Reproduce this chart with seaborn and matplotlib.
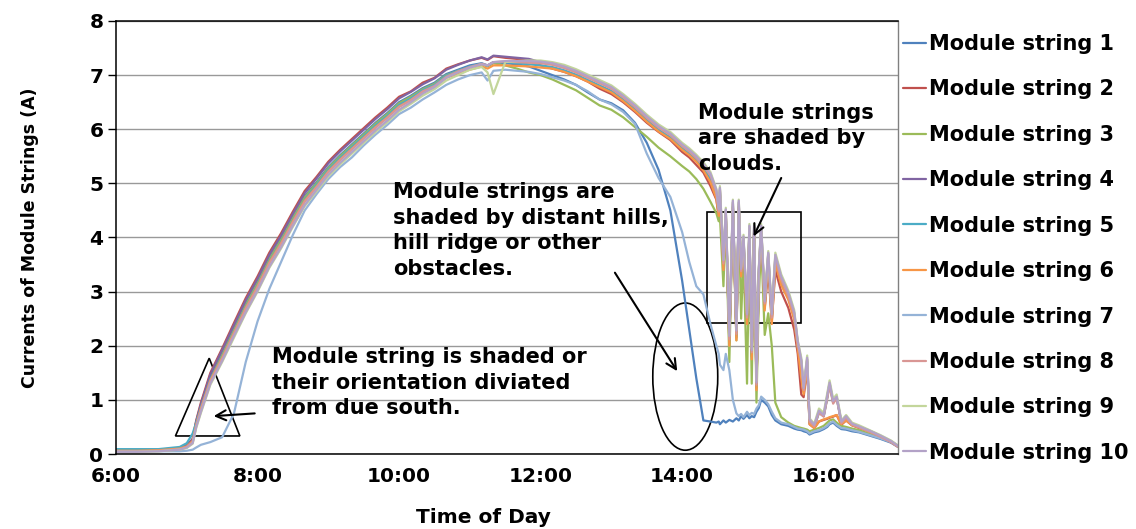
import seaborn as sns
import matplotlib.pyplot as plt
import matplotlib.patches as mpatches
import pandas as pd

sns.set_style("white")
plt.rcParams['font.family'] = ['DejaVu Sans']
plt.rcParams['font.weight'] = 'bold'
plt.rcParams['axes.labelweight'] = 'bold'
plt.rcParams['text.color'] = 'black'
plt.rcParams['axes.labelcolor'] = 'black'
plt.rcParams['xtick.color'] = 'black'
plt.rcParams['ytick.color'] = 'black'

# sample times (clock time)
TIMES = ["6:00", "6:18", "6:36", "6:54", "7:00", "7:05", "7:08", "7:12", "7:20", "7:30",
         "7:40", "7:50", "8:00", "8:10", "8:20", "8:30", "8:40", "8:50", "9:00", "9:10",
         "9:20", "9:30", "9:40", "9:50", "10:00", "10:10", "10:20", "10:30", "10:40", "10:50",
         "11:00", "11:10", "11:15", "11:20", "11:30", "11:40", "11:50", "12:00", "12:10", "12:20",
         "12:30", "12:40", "12:50", "13:00", "13:10", "13:20", "13:30", "13:40", "13:50", "14:00",
         "14:06", "14:12", "14:18", "14:24", "14:29", "14:31", "14:32", "14:35", "14:37", "14:40",
         "14:43", "14:46", "14:48", "14:50", "14:52", "14:55", "14:57", "14:59", "15:01", "15:03",
         "15:05", "15:07", "15:10", "15:13", "15:16", "15:19", "15:24", "15:30", "15:35", "15:38",
         "15:41", "15:43", "15:46", "15:48", "15:52", "15:56", "16:00", "16:03", "16:05", "16:08",
         "16:11", "16:15", "16:19", "16:24", "16:30", "16:39", "16:48", "16:57", "17:03"]

S1 = [0.06, 0.06, 0.07, 0.10, 0.15, 0.25, 0.58, 0.88, 1.42, 1.86, 2.32, 2.78,
      3.18, 3.62, 3.98, 4.38, 4.76, 5.02, 5.30, 5.52, 5.72, 5.92, 6.12, 6.30,
      6.50, 6.62, 6.76, 6.86, 7.02, 7.10, 7.18, 7.22, 7.18, 7.24, 7.22, 7.20, 7.16,
      7.08, 7.00, 6.92, 6.82, 6.68, 6.55, 6.48, 6.35, 6.12, 5.75, 5.25, 4.50, 3.20, 2.30, 1.40, 0.62, 0.60,
      0.58, 0.60, 0.55, 0.62, 0.58, 0.63, 0.60, 0.66, 0.62, 0.70, 0.65, 0.72, 0.66, 0.70, 0.68,
      0.78, 0.85, 1.00, 0.95, 0.88, 0.72, 0.62, 0.55, 0.52, 0.47, 0.45, 0.44, 0.42, 0.40, 0.36,
      0.40, 0.42, 0.46, 0.50, 0.55, 0.58, 0.52, 0.46, 0.45, 0.42, 0.40, 0.34, 0.28, 0.21, 0.13]

S2 = [0.07, 0.07, 0.08, 0.11, 0.16, 0.28, 0.62, 0.95, 1.50, 1.95, 2.42, 2.88,
      3.28, 3.72, 4.08, 4.48, 4.86, 5.12, 5.40, 5.62, 5.82, 6.02, 6.22, 6.40,
      6.60, 6.70, 6.86, 6.95, 7.12, 7.20, 7.27, 7.32, 7.28, 7.35, 7.32, 7.30, 7.26,
      7.18, 7.12, 7.06, 6.98, 6.88, 6.75, 6.65, 6.50, 6.32, 6.12, 5.95, 5.80, 5.58, 5.48, 5.34, 5.20, 4.95,
      4.70, 4.38, 4.78, 3.45, 4.40, 2.05, 4.55, 2.15, 4.55, 3.30, 3.90, 2.45, 4.10, 1.80, 4.10,
      1.22, 3.30, 4.00, 2.70, 3.40, 2.45, 3.40, 3.00, 2.70, 2.30, 1.85, 1.10, 1.05, 1.60, 0.55,
      0.48, 0.60, 0.63, 0.65, 0.67, 0.69, 0.72, 0.54, 0.62, 0.53, 0.48, 0.41, 0.32, 0.22, 0.14]

S3 = [0.06, 0.06, 0.07, 0.10, 0.14, 0.24, 0.56, 0.86, 1.40, 1.84, 2.30, 2.76,
      3.16, 3.60, 3.96, 4.36, 4.74, 5.00, 5.28, 5.50, 5.70, 5.90, 6.10, 6.28,
      6.48, 6.60, 6.74, 6.84, 7.00, 7.08, 7.15, 7.20, 7.16, 7.22, 7.18, 7.12, 7.05,
      7.00, 6.92, 6.82, 6.72, 6.58, 6.44, 6.36, 6.22, 6.04, 5.86, 5.66, 5.50, 5.32, 5.22, 5.08, 4.90, 4.66,
      4.45, 4.30, 4.40, 3.10, 4.35, 1.70, 4.55, 2.10, 4.55, 2.50, 3.70, 1.30, 3.90, 1.30, 4.00,
      0.95, 2.90, 3.90, 2.20, 2.60, 2.00, 0.95, 0.68, 0.58, 0.52, 0.50, 0.48, 0.47, 0.45, 0.42,
      0.45, 0.48, 0.52, 0.58, 0.62, 0.64, 0.58, 0.52, 0.50, 0.47, 0.44, 0.37, 0.30, 0.23, 0.15]

S4 = [0.06, 0.06, 0.07, 0.10, 0.15, 0.27, 0.60, 0.92, 1.47, 1.92, 2.38, 2.84,
      3.24, 3.68, 4.04, 4.44, 4.82, 5.09, 5.37, 5.59, 5.79, 5.99, 6.19, 6.37,
      6.57, 6.69, 6.83, 6.94, 7.10, 7.19, 7.27, 7.33, 7.29, 7.36, 7.34, 7.32, 7.30,
      7.24, 7.21, 7.15, 7.07, 6.97, 6.87, 6.77, 6.61, 6.43, 6.23, 6.05, 5.91, 5.71, 5.61, 5.49, 5.35, 5.16,
      4.85, 4.50, 4.90, 3.55, 4.50, 2.15, 4.65, 2.25, 4.65, 3.40, 4.00, 2.55, 4.20, 1.90, 4.20,
      1.30, 3.40, 4.20, 2.80, 3.70, 2.55, 3.65, 3.25, 2.95, 2.60, 2.05, 1.72, 1.20, 1.75, 0.62,
      0.52, 0.78, 0.70, 1.05, 1.30, 0.95, 1.05, 0.58, 0.68, 0.55, 0.50, 0.42, 0.33, 0.23, 0.14]

S5 = [0.09, 0.09, 0.09, 0.13, 0.20, 0.38, 0.58, 0.86, 1.38, 1.80, 2.26, 2.72,
      3.12, 3.56, 3.92, 4.32, 4.70, 4.97, 5.25, 5.47, 5.67, 5.87, 6.07, 6.25,
      6.45, 6.57, 6.72, 6.82, 6.99, 7.08, 7.16, 7.21, 7.17, 7.24, 7.24, 7.22, 7.20,
      7.18, 7.15, 7.09, 7.01, 6.91, 6.81, 6.71, 6.55, 6.37, 6.17, 5.99, 5.85, 5.65, 5.55, 5.43, 5.28, 5.08,
      4.78, 4.45, 4.84, 3.48, 4.44, 2.08, 4.58, 2.18, 4.58, 3.34, 3.94, 2.48, 4.14, 1.84, 4.14,
      1.25, 3.34, 4.14, 2.74, 3.64, 2.48, 3.58, 3.18, 2.88, 2.52, 1.98, 1.66, 1.15, 1.70, 0.58,
      0.50, 0.76, 0.70, 1.04, 1.30, 0.96, 1.04, 0.58, 0.68, 0.56, 0.51, 0.43, 0.34, 0.24, 0.15]

S6 = [0.06, 0.06, 0.07, 0.10, 0.14, 0.24, 0.54, 0.84, 1.36, 1.78, 2.24, 2.70,
      3.10, 3.54, 3.90, 4.30, 4.68, 4.94, 5.22, 5.44, 5.64, 5.84, 6.04, 6.22,
      6.42, 6.54, 6.68, 6.78, 6.95, 7.03, 7.10, 7.16, 7.12, 7.18, 7.18, 7.17, 7.16,
      7.14, 7.12, 7.06, 6.98, 6.88, 6.78, 6.68, 6.52, 6.34, 6.14, 5.96, 5.82, 5.62, 5.52, 5.40, 5.24, 5.02,
      4.72, 4.40, 4.80, 3.40, 4.42, 2.00, 4.55, 2.10, 4.55, 3.28, 3.90, 2.40, 4.10, 1.75, 4.10,
      1.18, 3.30, 4.10, 2.65, 3.58, 2.40, 3.52, 3.12, 2.85, 2.48, 1.95, 1.40, 1.10, 1.62, 0.55,
      0.48, 0.60, 0.64, 0.66, 0.68, 0.70, 0.72, 0.55, 0.62, 0.53, 0.49, 0.41, 0.33, 0.23, 0.14]

S7 = [0.05, 0.05, 0.05, 0.05, 0.06, 0.08, 0.12, 0.17, 0.22, 0.31, 0.75, 1.70,
      2.45, 3.05, 3.55, 4.05, 4.50, 4.80, 5.08, 5.30, 5.48, 5.70, 5.90, 6.08,
      6.28, 6.40, 6.55, 6.68, 6.82, 6.92, 7.00, 7.05, 6.90, 7.08, 7.10, 7.08, 7.06,
      7.02, 6.96, 6.90, 6.82, 6.70, 6.55, 6.46, 6.32, 6.10, 5.55, 5.10, 4.75, 4.10, 3.55, 3.10, 2.95, 2.40,
      2.00, 1.85, 1.65, 1.55, 1.85, 1.55, 1.00, 0.75, 0.70, 0.74, 0.68, 0.78, 0.72, 0.76, 0.74,
      0.84, 0.90, 1.06, 1.00, 0.92, 0.78, 0.66, 0.58, 0.55, 0.50, 0.47, 0.46, 0.45, 0.42, 0.38,
      0.42, 0.44, 0.48, 0.52, 0.57, 0.60, 0.54, 0.48, 0.47, 0.44, 0.41, 0.35, 0.29, 0.22, 0.14]

S8 = [0.05, 0.05, 0.06, 0.09, 0.13, 0.22, 0.52, 0.82, 1.34, 1.76, 2.22, 2.68,
      3.08, 3.52, 3.88, 4.28, 4.66, 4.93, 5.21, 5.43, 5.63, 5.83, 6.03, 6.21,
      6.41, 6.54, 6.70, 6.80, 6.97, 7.07, 7.15, 7.21, 7.18, 7.24, 7.25, 7.24, 7.23,
      7.22, 7.19, 7.13, 7.05, 6.95, 6.85, 6.75, 6.59, 6.41, 6.21, 6.03, 5.89, 5.69, 5.59, 5.47, 5.33, 5.14,
      4.83, 4.48, 4.88, 3.52, 4.48, 2.12, 4.62, 2.22, 4.62, 3.38, 3.98, 2.52, 4.18, 1.88, 4.18,
      1.28, 3.38, 4.18, 2.78, 3.68, 2.52, 3.62, 3.22, 2.92, 2.56, 2.02, 1.70, 1.18, 1.72, 0.60,
      0.51, 0.76, 0.69, 1.02, 1.26, 0.93, 1.03, 0.57, 0.67, 0.54, 0.49, 0.41, 0.32, 0.22, 0.13]

S9 = [0.04, 0.04, 0.05, 0.08, 0.11, 0.19, 0.48, 0.76, 1.28, 1.70, 2.15, 2.60,
      3.00, 3.44, 3.80, 4.20, 4.58, 4.85, 5.13, 5.35, 5.55, 5.75, 5.95, 6.13,
      6.33, 6.47, 6.62, 6.74, 6.90, 7.00, 7.10, 7.15, 7.05, 6.65, 7.24, 7.26, 7.27,
      7.27, 7.24, 7.19, 7.11, 7.01, 6.91, 6.81, 6.65, 6.47, 6.27, 6.09, 5.95, 5.75, 5.65, 5.53, 5.39, 5.21,
      4.90, 4.55, 4.95, 3.60, 4.55, 2.20, 4.70, 2.30, 4.70, 3.45, 4.05, 2.60, 4.25, 1.95, 4.25,
      1.35, 3.45, 4.25, 2.85, 3.75, 2.60, 3.72, 3.32, 3.02, 2.66, 2.10, 1.78, 1.25, 1.82, 0.66,
      0.56, 0.84, 0.76, 1.12, 1.36, 1.02, 1.10, 0.62, 0.72, 0.58, 0.53, 0.44, 0.35, 0.25, 0.16]

S10 = [0.04, 0.04, 0.05, 0.08, 0.12, 0.20, 0.50, 0.78, 1.30, 1.72, 2.18, 2.62,
       3.02, 3.46, 3.82, 4.22, 4.60, 4.88, 5.16, 5.38, 5.58, 5.78, 5.98, 6.16,
       6.36, 6.50, 6.66, 6.78, 6.95, 7.05, 7.14, 7.20, 7.18, 7.24, 7.26, 7.26, 7.26,
       7.25, 7.22, 7.16, 7.08, 6.98, 6.88, 6.78, 6.62, 6.44, 6.24, 6.06, 5.92, 5.72, 5.62, 5.50, 5.36, 5.18,
       4.88, 4.52, 4.92, 3.58, 4.52, 2.18, 4.68, 2.28, 4.68, 3.42, 4.02, 2.58, 4.22, 1.92, 4.22,
       1.32, 3.42, 4.22, 2.82, 3.72, 2.58, 3.68, 3.28, 2.98, 2.62, 2.08, 1.74, 1.22, 1.78, 0.64,
       0.54, 0.80, 0.72, 1.08, 1.32, 0.98, 1.06, 0.60, 0.70, 0.56, 0.51, 0.43, 0.34, 0.24, 0.15]

COLORS = ["#4F81BD", "#C0504D", "#9BBB59", "#8064A2", "#4BACC6",
          "#F79646", "#95B3D7", "#D99694", "#C3D69B", "#B3A2C7"]
X_TICKS = ["6:00", "8:00", "10:00", "12:00", "14:00", "16:00"]

hours = [int(t.split(":")[0]) + int(t.split(":")[1]) / 60 for t in TIMES]
series = [S1, S2, S3, S4, S5, S6, S7, S8, S9, S10]
names = ["Module string %d" % i for i in range(1, 11)]
df = pd.concat([pd.DataFrame({"hour": hours, "current": s, "string": n})
                for s, n in zip(series, names)], ignore_index=True)

fig = plt.figure(figsize=(11.36, 5.29), dpi=100)
ax = fig.add_axes([116 / 1136, 1 - 454 / 529, 782 / 1136, 433 / 529])

sns.lineplot(data=df, x="hour", y="current", hue="string", hue_order=names,
             palette=COLORS, linewidth=1.6, errorbar=None, ax=ax)

ax.set_xlim(6, 17.05)
ax.set_ylim(0, 8)
ax.set_xticks([int(t.split(":")[0]) for t in X_TICKS])
ax.set_xticklabels(X_TICKS)
ax.set_yticks(range(0, 9))
ax.tick_params(axis='x', length=0, pad=9, labelsize=14.5)
ax.tick_params(axis='y', length=6, width=1, direction='out', pad=3, labelsize=14.5, left=True)
ax.set_xlabel("Time of Day", fontsize=14.5)
ax.xaxis.set_label_coords(0.47, -0.125)
ax.set_ylabel("Currents of Module Strings (A)", fontsize=12.5, labelpad=36)

ax.yaxis.grid(True, color='#999999', linewidth=1.0)
ax.set_axisbelow(True)
for side in ['left', 'bottom', 'top']:
    ax.spines[side].set_color('black')
    ax.spines[side].set_linewidth(1.1)
ax.spines['right'].set_color('#808080')
ax.spines['right'].set_linewidth(1.0)

handles, labels = ax.get_legend_handles_labels()
ax.legend(handles, labels, loc='upper left', bbox_to_anchor=(903 / 1136, 1 - 34 / 529),
          bbox_transform=fig.transFigure, frameon=False, fontsize=15,
          handlelength=1.1, handletextpad=0.15, labelspacing=1.22,
          borderaxespad=0, borderpad=0)

# annotations
ax.add_patch(mpatches.Polygon([[6.84, 0.333], [7.317, 1.77], [7.75, 0.333]],
                              closed=True, fill=False, ec='black', lw=1.2))
ax.add_patch(mpatches.Ellipse((14.044, 1.43), 0.918, 2.72, fill=False, ec='black', lw=1.2))
ax.add_patch(mpatches.Rectangle((14.35, 2.42), 1.33, 2.05, fill=False, ec='black', lw=1.2))

arrow = dict(arrowstyle='->', color='black', lw=1.5, mutation_scale=18, shrinkA=0, shrinkB=0)
ax.annotate("", xy=(7.38, 0.70), xytext=(7.96, 0.75), arrowprops=arrow)
ax.annotate("", xy=(13.93, 1.53), xytext=(13.05, 3.35), arrowprops=arrow)
ax.annotate("", xy=(15.01, 4.02), xytext=(15.40, 5.10), arrowprops=arrow)

ax.text(8.20, 1.98, "Module string is shaded or\ntheir orientation diviated\nfrom due south.",
        fontsize=15, ha='left', va='top', linespacing=1.36)
ax.text(9.91, 5.03, "Module strings are\nshaded by distant hills,\nhill ridge or other\nobstacles.",
        fontsize=15, ha='left', va='top', linespacing=1.36)
ax.text(14.23, 6.49, "Module strings\nare shaded by\nclouds.",
        fontsize=15, ha='left', va='top', linespacing=1.36)

fig.savefig("out.png", dpi=100)
